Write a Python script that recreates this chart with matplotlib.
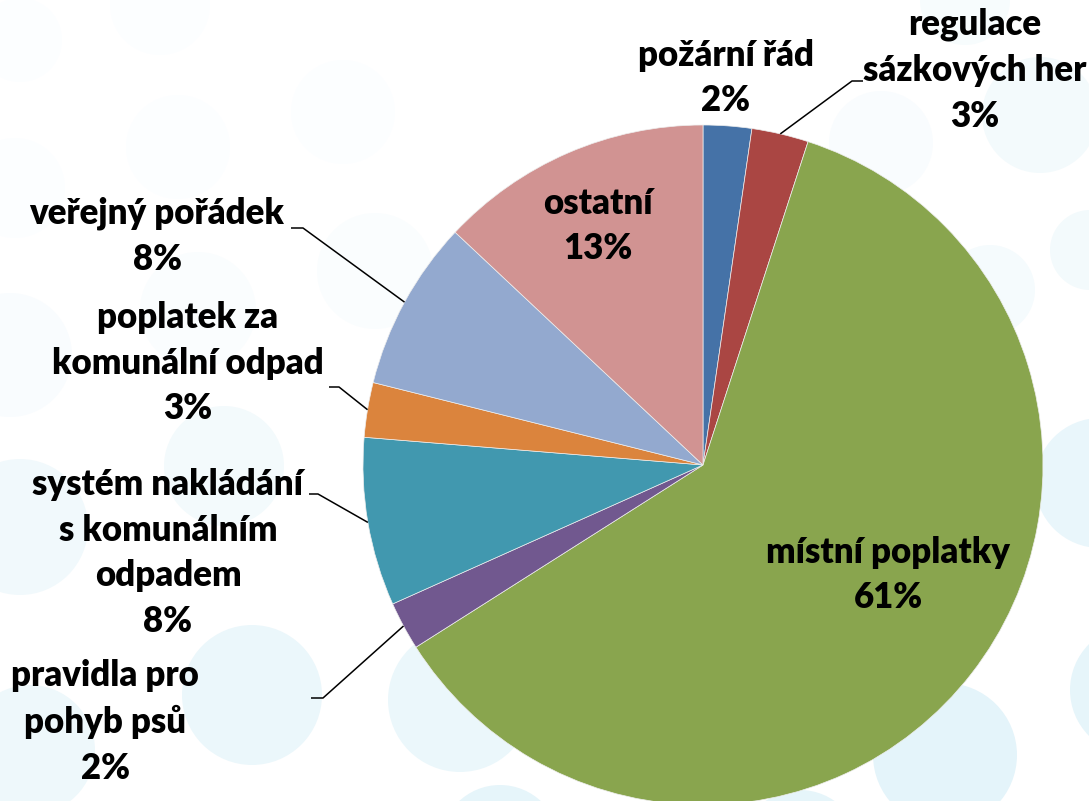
import matplotlib
matplotlib.use("Agg")
import matplotlib.pyplot as plt
from matplotlib.patches import Circle
import numpy as np

# ---- data ----
categories = ["požární řád", "regulace\nsázkových her", "místní poplatky",
              "pravidla pro\npohyb psů", "systém nakládání\ns komunálním\nodpadem",
              "poplatek za\nkomunální odpad", "veřejný pořádek", "ostatní"]
values = [2.3, 2.7, 61.0, 2.3, 8.0, 2.6, 8.1, 13.0]
colors = ["#4572A7", "#AA4643", "#89A54E", "#71588F", "#4198AF",
          "#DB843D", "#93A9CF", "#D19392"]

W, H = 1089, 801
fig = plt.figure(figsize=(W / 100, H / 100), dpi=100)
ax = fig.add_axes([0, 0, 1, 1])
plt.rcParams['font.family'] = ['Lato', 'DejaVu Sans']

def py(y):  # pixel-from-top -> data y
    return H - y

# decorative background circles (x, y from top, r, color)
bg = [
    (20, 40, 42, "#fcfeff"), (160, 5, 50, "#fcfeff"), (178, 147, 52, "#fcfeff"),
    (343, 112, 52, "#fcfeff"), (15, 188, 50, "#fcfeff"), (881, 143, 52, "#f9fcfe"),
    (965, 0, 45, "#f7fcfd"), (1040, 115, 58, "#f3fafc"), (375, 271, 58, "#fafdfe"),
    (198, 310, 58, "#fafdfe"), (10, 355, 62, "#f9fcfe"), (1090, 250, 40, "#f3fafc"),
    (990, 290, 45, "#f5fbfd"), (224, 466, 60, "#f3fafc"), (20, 527, 68, "#f1f9fc"),
    (252, 695, 70, "#ebf7fb"), (30, 750, 65, "#eef8fb"), (460, 700, 72, "#ebf7fb"),
    (1100, 483, 65, "#e9f6fb"), (945, 755, 72, "#e4f4fa"), (1135, 690, 65, "#e6f5fa"),
    (500, 845, 60, "#e6f5fa"), (800, 850, 60, "#e6f5fa"),
]
for (cx, cy, r, c) in bg:
    ax.add_patch(Circle((cx, py(cy)), r, facecolor=c, edgecolor="none", zorder=0))

center = (703, py(465))
radius = 340
wedges, _ = ax.pie(values, colors=colors, startangle=90, counterclock=False,
                   center=center, radius=radius, frame=True,
                   wedgeprops=dict(linewidth=0.5, edgecolor="#eeeeee", zorder=2))
for w in wedges:
    w.set_zorder(2)

ax.set_xlim(0, W)
ax.set_ylim(0, H)
ax.set_aspect("equal")
ax.axis("off")

total = sum(values)
pct = [f"{round(v / total * 100):.0f}%" for v in values]

# label layout: (x, y from top) of text block centre
label_pos = [(726, 78), (975, 70), (888, 575), (105, 722), (168, 553),
             (188, 363), (157, 236), (598, 226)]
# leader lines: (label-side point, elbow) or None
leaders = [None, ((863, 81), (852, 81)), None, ((311, 698), (323, 698)),
           ((309, 494), (318, 494)), ((329, 387), (339, 387)),
           ((291, 228), (303, 228)), None]

for i, w in enumerate(wedges):
    x, y = label_pos[i]
    ax.text(x, py(y), f"{categories[i]}\n{pct[i]}", ha="center", va="center",
            fontsize=25, fontweight="heavy", color="black", linespacing=1.48,
            zorder=5)
    if leaders[i] is not None:
        ang = np.deg2rad((w.theta1 + w.theta2) / 2)
        rx = center[0] + radius * np.cos(ang)
        ry = center[1] + radius * np.sin(ang)
        (ax0, ay0), (ex, ey) = leaders[i]
        ax.plot([ax0, ex, rx], [py(ay0), py(ey), ry], color="black", lw=1.1,
                zorder=4, solid_capstyle="butt")

fig.savefig("out.png", dpi=100)
